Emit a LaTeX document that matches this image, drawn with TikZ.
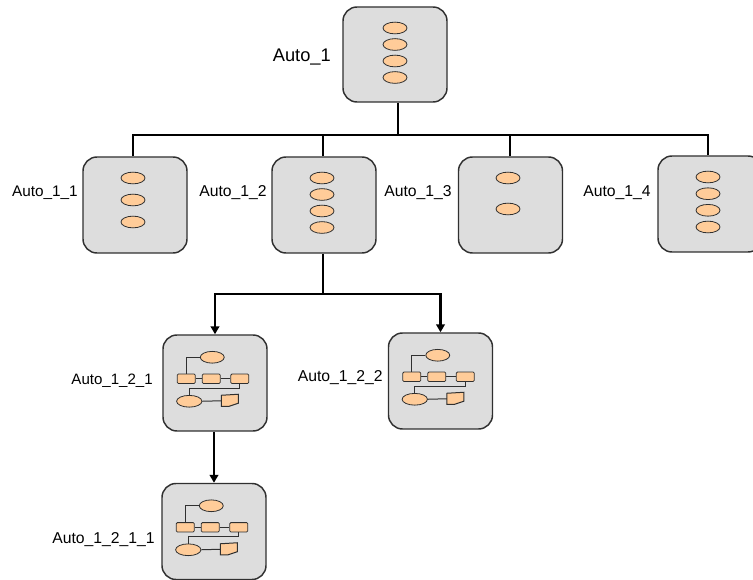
\documentclass[tikz,border=0pt]{standalone}
\usepackage{fontspec}
\setmainfont{Liberation Sans}
\usetikzlibrary{shapes.geometric,arrows.meta}
\definecolor{boxfill}{HTML}{DDDDDD}
\definecolor{peach}{HTML}{FFCC99}
\definecolor{edge}{HTML}{303030}
\tikzset{
  box/.style={draw=edge, line width=1.1pt, fill=boxfill, rounded corners=10.5pt,
    minimum width=78pt, minimum height=72pt, inner sep=0pt},
  oval/.style={ellipse, draw=edge, line width=0.6pt, fill=peach,
    minimum width=18pt, minimum height=8.8pt, inner sep=0pt},
  task/.style={rectangle, draw=edge, line width=0.6pt, fill=peach, rounded corners=0.8pt,
    minimum width=13.5pt, minimum height=7pt, inner sep=0pt},
  thin/.style={draw=black, line width=0.9pt},
  minline/.style={draw=edge, line width=0.75pt},
  thick/.style={draw=black, line width=1.7pt},
  arr/.style={thick, -{Triangle[length=6pt,width=6.5pt]}},
  lbl/.style={anchor=base east, inner sep=0pt, font=\fontsize{11.8pt}{13pt}\selectfont},
  minidiag/.pic={
    \node[oval] (-t) at (50,23) {};
    \node[task] (-r1) at (24,44.5) {};
    \node[task] (-r2) at (49,44.5) {};
    \node[task] (-r3) at (77.5,44.5) {};
    \node[oval, minimum width=19pt] (-b) at (27,67) {};
    \coordinate (-d) at (59,66.5);
    \draw[minline, fill=peach] (59,61) -- (76,60) -- (76,69) -- (67,72) -- (59,72) -- cycle;
    \draw[minline] (-t.west) -| (-r1.north);
    \draw[minline] (-r1) -- (-r2) -- (-r3);
    \draw[minline] (-r3.south) |- (27,54) -- (-b.north);
    \draw[minline] (-b.east) -- (-d);
  }
}
\begin{document}
\begin{tikzpicture}[x=0.75pt, y=-0.75pt]
\useasboundingbox (0,0) rectangle (753,580);

% boxes
\node[box, minimum height=71.25pt] (A1) at (395,54.5) {};
\node[box] (A11) at (135,205) {};
\node[box] (A12) at (324,205) {};
\node[box] (A13) at (510.5,205) {};
\node[box] (A14) at (710,204) {};
\node[box] (A121) at (215,383) {};
\node[box] (A122) at (440.5,381) {};
\node[box] (A1211) at (214,531.5) {};

% labels
\node[lbl, font=\fontsize{13.7pt}{15pt}\selectfont] (L1) at (331,62) {Auto\_1};
\node[lbl, font=\fontsize{11.5pt}{13pt}\selectfont] (L11) at (78,197) {Auto\_1\_1};
\node[lbl] (L12) at (267,197) {Auto\_1\_2};
\node[lbl] (L13) at (452,197) {Auto\_1\_3};
\node[lbl] (L14) at (651,197) {Auto\_1\_4};
\node[lbl, font=\fontsize{11.3pt}{13pt}\selectfont] (L121) at (153,385) {Auto\_1\_2\_1};
\node[lbl, font=\fontsize{11.8pt}{13pt}\selectfont] (L122) at (383,382) {Auto\_1\_2\_2};
\node[lbl, font=\fontsize{11.8pt}{13pt}\selectfont] (L1211) at (155,543) {Auto\_1\_2\_1\_1};

% ellipses
\node[oval] (A1e1) at (395,28) {};
\node[oval] (A1e2) at (395,44.5) {};
\node[oval] (A1e3) at (395,61) {};
\node[oval] (A1e4) at (395,77.5) {};
\node[oval] (A11e1) at (133,178) {};
\node[oval] (A11e2) at (133,200) {};
\node[oval] (A11e3) at (133,222) {};
\node[oval] (A12e1) at (322,178) {};
\node[oval] (A12e2) at (322,194.5) {};
\node[oval] (A12e3) at (322,211) {};
\node[oval] (A12e4) at (322,227.5) {};
\node[oval] (A13e1) at (508,178) {};
\node[oval] (A13e2) at (508,209) {};
\node[oval] (A14e1) at (708,177) {};
\node[oval] (A14e2) at (708,193.7) {};
\node[oval] (A14e3) at (708,210.3) {};
\node[oval] (A14e4) at (708,227) {};

% mini diagrams
\pic (M121) at (A121.north west) {minidiag};
\pic (M122) at (A122.north west) {minidiag};
\pic (M1211) at (A1211.north west) {minidiag};

% tree connectors
\coordinate (bus) at (398,135);
\draw[thin] (A1.south -| bus) -- (bus);
\draw[thin] (A11.north -| 133,0) |- (bus);
\draw[thin] (A14.north -| 708,0) |- (bus);
\draw[thin] (A12.north -| 323,0) -- (323,135);
\draw[thin] (A13.north -| 510,0) -- (510,135);

% thick arrows
\coordinate (split) at (323,294);
\draw[thick, line width=2.2pt] (A12.south -| split) -- (split);
\draw[arr] (split) -| (A121.north);
\draw[arr] (split) -| (A122.north);
\draw[arr] (A121.south -| A1211.north) -- (A1211.north);
\end{tikzpicture}
\end{document}
